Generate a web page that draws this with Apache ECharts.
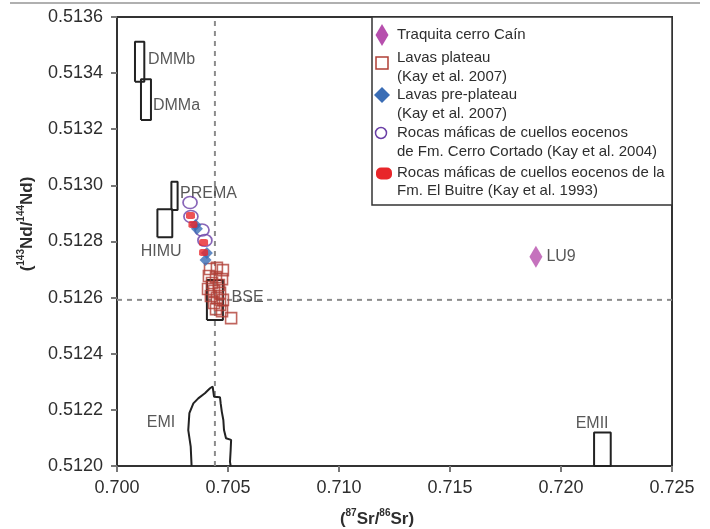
<!DOCTYPE html>
<html><head><meta charset="utf-8">
<script src="https://cdn.jsdelivr.net/npm/echarts@6/dist/echarts.min.js"></script>
<style>html,body{margin:0;padding:0;background:#fff}#c{width:710px;height:529px}</style>
</head><body><div id="c"></div>
<script>
// ---- Axis ranges / ticks ----
const xRange = [0.700, 0.725], xStep = 0.005;
const yRange = [0.5120, 0.5136], yStep = 0.0002;

// ---- Sample data: [87Sr/86Sr, 143Nd/144Nd] ----
const traquitaCain = [[0.71887, 0.512746]];
const lavasPlateau = [
  [0.70419,0.512702],[0.70450,0.512706],[0.70477,0.512698],
  [0.70414,0.512677],[0.70446,0.512673],[0.70473,0.512666],
  [0.70428,0.512652],[0.70459,0.512645],[0.70410,0.512631],
  [0.70437,0.512624],[0.70464,0.512617],[0.70423,0.512606],
  [0.70450,0.512599],[0.70477,0.512592],[0.70437,0.512581],
  [0.70464,0.512574],[0.70446,0.512559],[0.70473,0.512552],
  [0.70514,0.512527]
];
const lavasPrePlateau = [[0.70354,0.512859],[0.70360,0.512845],[0.70405,0.512759],[0.70399,0.512734]];
const cerroCortado = [[0.70329,0.512939],[0.70333,0.512889],[0.70383,0.512841],[0.70396,0.512804]];
const elBuitre = [[0.70331,0.512893],[0.70342,0.512861],[0.70390,0.512796],[0.70390,0.512761]];

// ---- Mantle reservoir fields: [xMin, xMax, yMin, yMax] ----
const boxDMMb  = [0.70081, 0.70123, 0.513369, 0.513512];
const boxDMMa  = [0.70108, 0.70153, 0.513233, 0.513378];
const boxPREMA = [0.70245, 0.70273, 0.512912, 0.513013];
const boxHIMU  = [0.70182, 0.70249, 0.512815, 0.512915];
const boxBSE   = [0.70405, 0.70477, 0.512520, 0.512663];
const boxEMII  = [0.72149, 0.72224, 0.512000, 0.512119];
const emiOutline = [
  [0.70336,0.512000],[0.70332,0.512069],[0.70321,0.512128],[0.70326,0.512188],
  [0.70344,0.512223],[0.70366,0.512241],[0.70396,0.512259],[0.70419,0.512277],
  [0.70431,0.512283],[0.70437,0.512277],[0.70437,0.512247],[0.70464,0.512245],
  [0.70467,0.512223],[0.70472,0.512194],[0.70479,0.512164],[0.70482,0.512128],
  [0.70491,0.512099],[0.70514,0.512093],[0.70512,0.512057],[0.70509,0.512015],
  [0.70512,0.512000]
];
const labelNames  = ['DMMb','DMMa','PREMA','HIMU','BSE','EMI','EMII'];
const labelPoints = [[0.70140,0.513447],[0.70162,0.513283],[0.70284,0.512969],[0.70107,0.512764],
                     [0.70516,0.512600],[0.70198,0.512153],[0.72140,0.512152]];
const labelPos    = ['right','right','right','right','right','inside','inside'];
const bseSr = 0.70441, bseNd = 0.512592;
const sampleLabel = 'LU9';

// ---- Legend text ----
const legendLines = [
  'Traquita cerro Caín',
  'Lavas plateau','(Kay et al. 2007)',
  'Lavas pre-plateau','(Kay et al. 2007)',
  'Rocas máficas de cuellos eocenos','de Fm. Cerro Cortado (Kay et al. 2004)',
  'Rocas máficas de cuellos eocenos de la','Fm. El Buitre (Kay et al. 1993)'
];

const FONT = "'Liberation Sans', Arial, sans-serif";
const INK = '#2e2e2e';
const C = {purple:'#b64fad', brick:'#b03f36', blue:'#3a6db5', violet:'#6a3fa6', red:'#e8262a'};

function boxPath(b){ return [[b[0],b[2]],[b[0],b[3]],[b[1],b[3]],[b[1],b[2]],[b[0],b[2]]]; }
function outline(name, data){
  return {name, type:'line', data, symbol:'none', silent:true, z:2,
    lineStyle:{color:'#222', width:2}, clip:false};
}
function dashed(name, data){
  return {name, type:'line', data, symbol:'none', silent:true, z:1,
    lineStyle:{color:'#8c8c8c', width:2, type:[5,5]}};
}

const chart = echarts.init(document.getElementById('c'), null, {renderer:'canvas'});
const option = {
  animation:false,
  backgroundColor:'#fff',
  grid:{left:117, right:38, top:17, bottom:63, show:true, borderColor:'#333', borderWidth:2},
  xAxis:{type:'value', min:xRange[0], max:xRange[1], interval:xStep,
    axisLine:{show:true, onZero:false, lineStyle:{color:'#333', width:2}},
    axisTick:{show:true, length:6, lineStyle:{color:'#777', width:2}},
    axisLabel:{margin:13, fontSize:18, color:INK, fontFamily:FONT, formatter:v=>v.toFixed(3)},
    splitLine:{show:false}},
  yAxis:{type:'value', min:yRange[0], max:yRange[1], interval:yStep,
    axisLine:{show:true, onZero:false, lineStyle:{color:'#333', width:2}},
    axisTick:{show:true, length:6, lineStyle:{color:'#777', width:2}},
    axisLabel:{margin:14, fontSize:18, color:INK, fontFamily:FONT, formatter:v=>v.toFixed(4)},
    splitLine:{show:false}},
  series:[
    dashed('BSE Sr', [[bseSr, yRange[0]], [bseSr, yRange[1]]]),
    dashed('CHUR Nd', [[xRange[0], bseNd], [xRange[1], bseNd]]),
    outline('DMMb', boxPath(boxDMMb)),
    outline('DMMa', boxPath(boxDMMa)),
    outline('PREMA', boxPath(boxPREMA)),
    outline('HIMU', boxPath(boxHIMU)),
    outline('BSE', boxPath(boxBSE)),
    outline('EMII', boxPath(boxEMII)),
    outline('EMI', emiOutline),
    {name:'labels', type:'scatter', silent:true, symbolSize:0, z:3,
      data: labelNames.map((n,i)=>({name:n, value:labelPoints[i],
        label:{show:true, position:labelPos[i], distance:0, formatter:n,
          fontSize:16, color:INK, fontFamily:FONT}}))},
    {name:'Lavas plateau', type:'scatter', data:lavasPlateau, symbol:'rect', symbolSize:11, z:4,
      itemStyle:{color:'rgba(0,0,0,0)', borderColor:C.brick, borderWidth:1.6}},
    {name:'Rocas máficas Cerro Cortado', type:'scatter', data:cerroCortado, symbol:'circle', symbolSize:[14,12], z:5,
      itemStyle:{color:'rgba(0,0,0,0)', borderColor:C.violet, borderWidth:1.6}},
    {name:'Lavas pre-plateau', type:'scatter', data:lavasPrePlateau, symbol:'diamond', symbolSize:12, z:6,
      itemStyle:{color:C.blue}},
    {name:'Rocas máficas El Buitre', type:'scatter', data:elBuitre, symbol:'roundRect', symbolSize:[9,7], z:7,
      itemStyle:{color:C.red}},
    {name:'Traquita cerro Caín', type:'scatter', data:traquitaCain, symbol:'diamond', symbolSize:[13,22], z:7,
      itemStyle:{color:C.purple},
      label:{show:true, position:'right', distance:4, formatter:sampleLabel, fontSize:16, color:INK, fontFamily:FONT}}
  ],
  graphic:[]
};

// top border line of the page
const g = [];
g.push({type:'line', shape:{x1:10,y1:3,x2:700,y2:3}, style:{stroke:'#b0b0b0', lineWidth:2}, silent:true});
// axis titles
g.push({type:'text', x:377, y:518, silent:true, style:{
  text:'{t|(}{s|87}{t|Sr/}{s|86}{t|Sr)}', align:'center', verticalAlign:'middle',
  rich:{t:{fontSize:17, fontWeight:'bold', fontFamily:FONT, fill:INK, lineHeight:20, verticalAlign:'bottom'},
        s:{fontSize:10, fontWeight:'bold', fontFamily:FONT, fill:INK, lineHeight:20, verticalAlign:'top'}}}});
g.push({type:'text', x:26, y:224, rotation:Math.PI/2, silent:true, style:{
  text:'{t|(}{s|143}{t|Nd/}{s|144}{t|Nd)}', align:'center', verticalAlign:'middle',
  rich:{t:{fontSize:17, fontWeight:'bold', fontFamily:FONT, fill:INK, lineHeight:20, verticalAlign:'bottom'},
        s:{fontSize:10, fontWeight:'bold', fontFamily:FONT, fill:INK, lineHeight:20, verticalAlign:'top'}}}});
// legend box
const LX = 372, LY = 17;
g.push({type:'rect', shape:{x:LX, y:LY, width:300, height:188}, style:{fill:'#fff', stroke:'#333', lineWidth:1.5}, z:10, silent:true});
const lineY = [35, 58, 76.5, 95, 113.5, 133, 151.5, 173, 190.5];
legendLines.forEach((t,i)=>{
  g.push({type:'text', x:397, y:lineY[i], z:11, silent:true,
    style:{text:t, fontSize:15, fontFamily:FONT, fill:INK, verticalAlign:'middle', align:'left'}});
});
g.push({type:'polygon', z:11, silent:true, shape:{points:[[382,24],[388.5,35],[382,46],[375.5,35]]}, style:{fill:C.purple}});
g.push({type:'rect', z:11, silent:true, shape:{x:376, y:57, width:12, height:12}, style:{fill:'none', stroke:C.brick, lineWidth:1.5}});
g.push({type:'polygon', z:11, silent:true, shape:{points:[[382,87],[390,95],[382,103],[374,95]]}, style:{fill:C.blue}});
g.push({type:'ellipse', z:11, silent:true, shape:{cx:381, cy:133, rx:5.5, ry:5.5}, style:{fill:'none', stroke:C.violet, lineWidth:1.5}});
g.push({type:'rect', z:11, silent:true, shape:{x:376, y:167.5, width:16, height:12, r:5}, style:{fill:C.red}});
option.graphic = g;
chart.setOption(option);
</script>
</body></html>
